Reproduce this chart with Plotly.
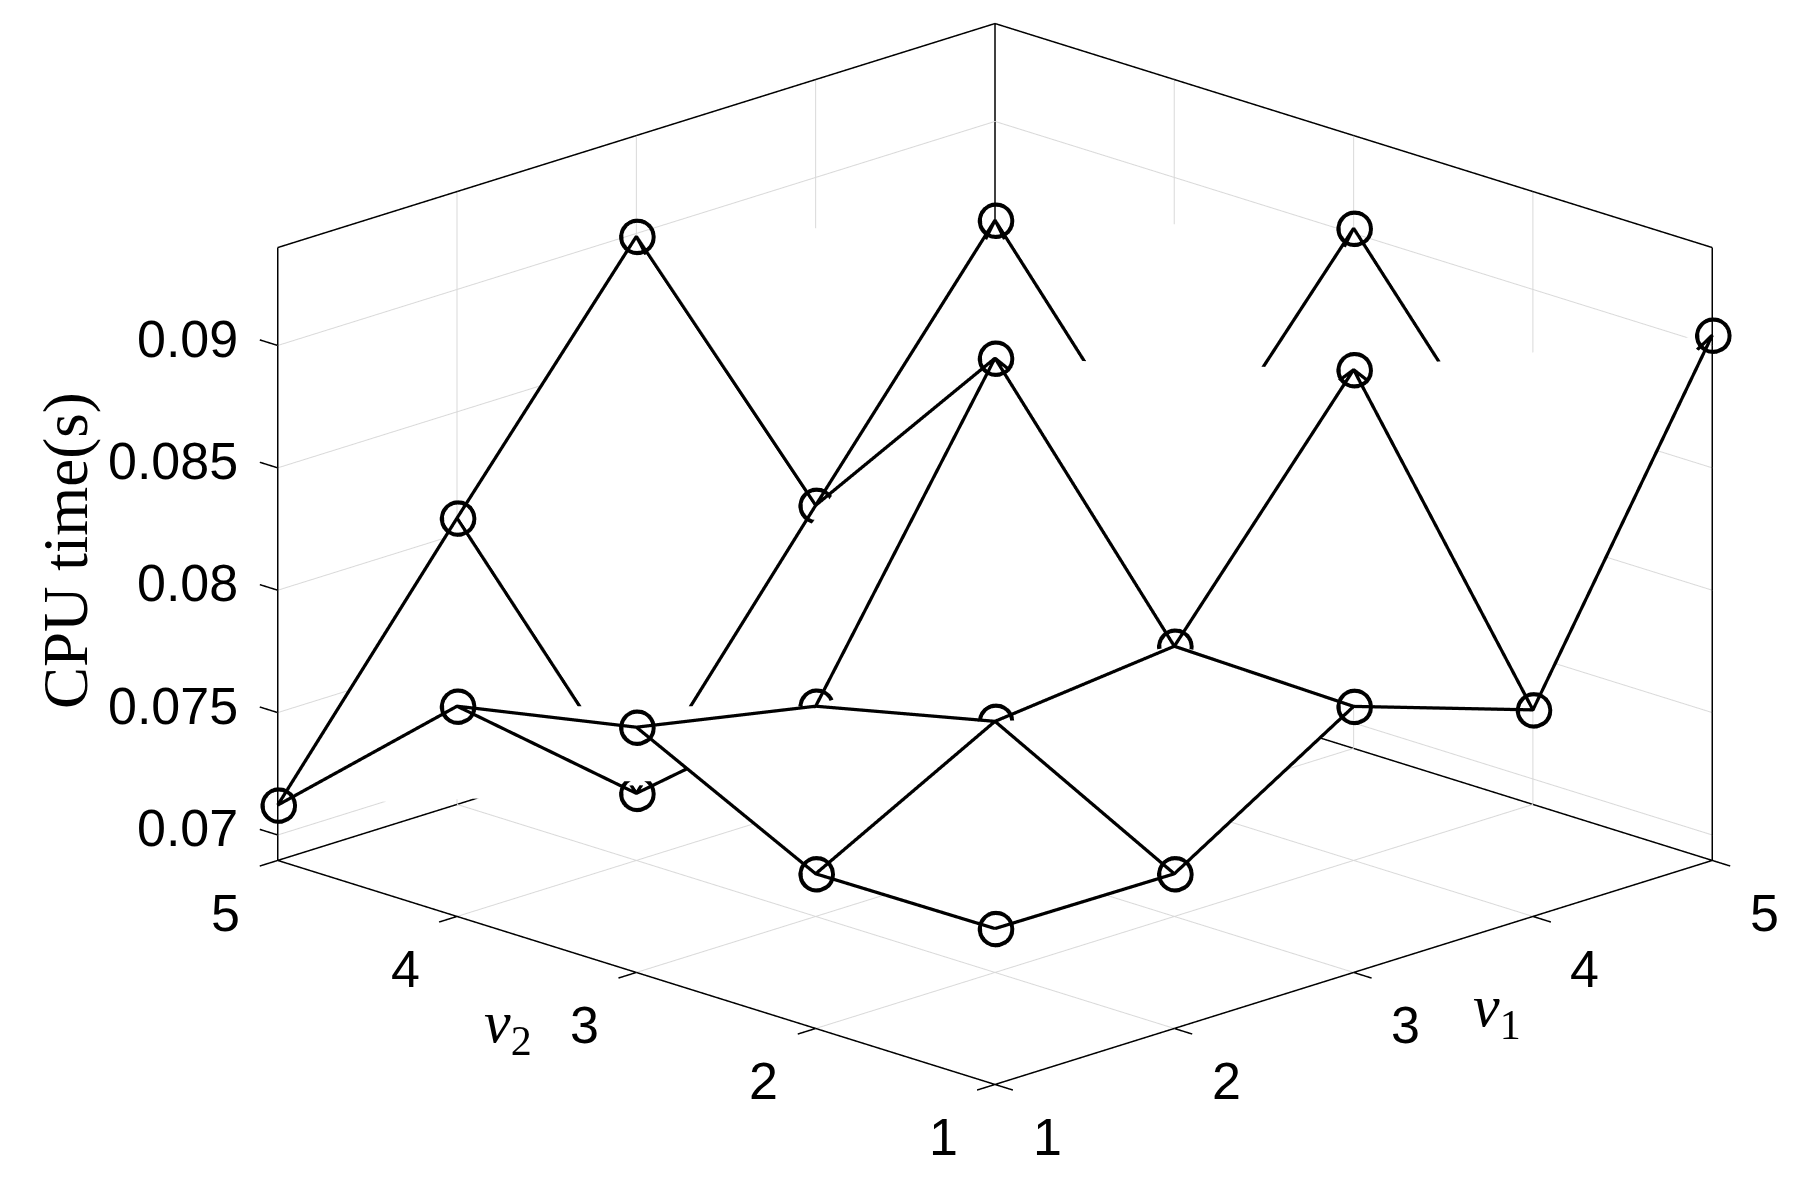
import plotly.graph_objects as go

nu1 = [1, 2, 3, 4, 5]
nu2 = [1, 2, 3, 4, 5]
# CPU time rows: one per nu1, columns nu2 = 1..5
t_nu1_1 = [0.07533, 0.07528, 0.07898, 0.07755, 0.07122]
t_nu1_2 = [0.07528, 0.07922, 0.07755, 0.07170, 0.08066]
t_nu1_3 = [0.07983, 0.08000, 0.08948, 0.08118, 0.08988]
t_nu1_4 = [0.07740, 0.08901, 0.08127, 0.09054, 0.07360]
t_nu1_5 = [0.09042, 0.08104, 0.09021, 0.07360, 0.07600]
cpu = [t_nu1_1, t_nu1_2, t_nu1_3, t_nu1_4, t_nu1_5]
z_ticks = [0.07, 0.075, 0.08, 0.085, 0.09]
z_labels = ["0.07", "0.075", "0.08", "0.085", "0.09"]
z_lo, z_hi = 0.06896, 0.0940
# grid points whose circle is partly covered by a face in front of it
mostly_covered_circles = [(2, 2), (2, 3), (3, 2)]
half_covered_circles = [(2, 4), (3, 4)]

n = len(nu1)
vx, vy, vz, fi, fj, fk = [], [], [], [], [], []
for a in range(n):
    for b in range(n):
        vx.append(nu1[a]); vy.append(nu2[b]); vz.append(cpu[a][b])
idx = lambda a, b: a * n + b
for a in range(n - 1):
    for b in range(n - 1):
        fi += [idx(a, b), idx(a + 1, b + 1)]
        fj += [idx(a + 1, b), idx(a, b + 1)]
        fk += [idx(a, b + 1), idx(a + 1, b)]

fig = go.Figure()
fig.add_trace(go.Mesh3d(x=vx, y=vy, z=vz, i=fi, j=fj, k=fk, color="white", opacity=1,
                        flatshading=True, hoverinfo="skip",
                        lighting=dict(ambient=1, diffuse=0, specular=0, roughness=1, fresnel=0)))


def seg(x, y, z, color="black", width=3):
    fig.add_trace(go.Scatter3d(x=x, y=y, z=z, mode="lines", hoverinfo="skip", showlegend=False,
                               line=dict(color=color, width=width)))


# grid on the floor and the two back walls (box edges are drawn in black below)
GRID = "#d9d9d9"
for v in nu1[1:-1]:
    seg([v, v], [1, 5], [z_lo, z_lo], GRID, 2)
    seg([v, v], [5, 5], [z_lo, z_hi], GRID, 2)
for v in nu2[1:-1]:
    seg([1, 5], [v, v], [z_lo, z_lo], GRID, 2)
    seg([5, 5], [v, v], [z_lo, z_hi], GRID, 2)
for v in z_ticks:
    seg([1, 5], [5, 5], [v, v], GRID, 2)
    seg([5, 5], [1, 5], [v, v], GRID, 2)
# axes box
seg([1, 5], [1, 1], [z_lo, z_lo]); seg([1, 1], [1, 5], [z_lo, z_lo])
seg([5, 5], [1, 5], [z_lo, z_lo]); seg([1, 5], [5, 5], [z_lo, z_lo])
seg([1, 1], [5, 5], [z_lo, z_hi]); seg([5, 5], [1, 1], [z_lo, z_hi]); seg([5, 5], [5, 5], [z_lo, z_hi])
seg([1, 5], [5, 5], [z_hi, z_hi]); seg([5, 5], [1, 5], [z_hi, z_hi])
# tick stubs
for v in nu1:
    seg([v, v], [1, 0.9], [z_lo, z_lo])
for v in nu2:
    seg([1, 0.9], [v, v], [z_lo, z_lo])
for v in z_ticks:
    seg([1, 1], [5, 5.1], [v, v])

ASPECT_Z = 0.636


def toward_viewer(xs, ys, zs, amount):
    """Shift along the line of sight: the drawn position stays, only the depth order changes."""
    dz = amount / 4 * 0.465 * (z_hi - z_lo) / ASPECT_Z
    return [v - amount for v in xs], [v - amount for v in ys], [v + dz for v in zs]


# the surface edges, just in front of the white faces so these do not cut the strokes in half
edge_nudge = 0.06
for a in range(n):
    seg(*toward_viewer([nu1[a]] * n, nu2, cpu[a], edge_nudge), "black", 6.5)
for b in range(n):
    seg(*toward_viewer(nu1, [nu2[b]] * n, [cpu[a][b] for a in range(n)], edge_nudge), "black", 6.5)

# circles
mx, my, mz = [], [], []
for x0, y0, z0 in zip(vx, vy, vz):
    if (x0, y0) in mostly_covered_circles:
        amount = 0.0
    elif (x0, y0) in half_covered_circles:
        amount = 0.08
    else:
        amount = 0.3
    px, py, pz = toward_viewer([x0], [y0], [z0], amount)
    mx += px; my += py; mz += pz
fig.add_trace(go.Scatter3d(x=mx, y=my, z=mz, mode="markers", showlegend=False, hoverinfo="skip",
                           marker=dict(symbol="circle-open", size=20.5, color="black",
                                       line=dict(color="black", width=1.5))))

font = dict(family="Liberation Sans", size=52, color="black")
scene_ann = []
for v in nu1:
    scene_ann.append(dict(x=v, y=1, z=z_lo, text=str(v), showarrow=False, font=font, xshift=52, yshift=-52))
for v in nu2:
    scene_ann.append(dict(x=1, y=v, z=z_lo, text=str(v), showarrow=False, font=font, xshift=-52, yshift=-52))
for v, t in zip(z_ticks, z_labels):
    scene_ann.append(dict(x=1, y=5, z=v, text=t, showarrow=False, font=font, xanchor="right", xshift=-38, yshift=7))

pad = 0.5
zpad = 0.003
hidden = dict(visible=False, showbackground=False, showgrid=False, zeroline=False, showspikes=False)
k = 3
scale = 1.831
serif = "Liberation Serif"
fig.update_layout(
    width=1807, height=1179, margin=dict(l=0, r=0, t=0, b=0), paper_bgcolor="white",
    showlegend=False,
    scene=dict(
        domain=dict(x=[0.1014, 1], y=[0.06, 1]),
        xaxis=dict(hidden, range=[1 - pad, 5 + pad]),
        yaxis=dict(hidden, range=[1 - pad, 5 + pad]),
        zaxis=dict(hidden, range=[z_lo - zpad, z_hi + zpad]),
        aspectmode="manual",
        aspectratio=dict(x=1.25 * scale, y=1.25 * scale,
                         z=scale * ASPECT_Z * (z_hi - z_lo + 2 * zpad) / (z_hi - z_lo)),
        camera=dict(projection=dict(type="orthographic"), up=dict(x=0, y=0, z=1),
                    eye=dict(x=-1 * k, y=-1 * k, z=0.465 * k), center=dict(x=0, y=0, z=0)),
        annotations=scene_ann,
    ),
    annotations=[
        dict(text="CPU time(s)", x=66 / 1807, y=1 - 551 / 1179, xref="paper", yref="paper", showarrow=False,
             xanchor="center", yanchor="middle", textangle=-90, font=dict(family=serif, size=63, color="black")),
        dict(text="<i>ν</i><sub>2</sub>", x=508 / 1807, y=1 - 1026 / 1179, xref="paper", yref="paper", showarrow=False,
             xanchor="center", yanchor="middle", font=dict(family=serif, size=60, color="black")),
        dict(text="<i>ν</i><sub>1</sub>", x=1497 / 1807, y=1 - 1011 / 1179, xref="paper", yref="paper", showarrow=False,
             xanchor="center", yanchor="middle", font=dict(family=serif, size=60, color="black")),
    ],
)
fig.write_html("out.html", config=dict(displayModeBar=False),
               post_script="document.body.style.margin='0';document.body.style.overflow='hidden';")
